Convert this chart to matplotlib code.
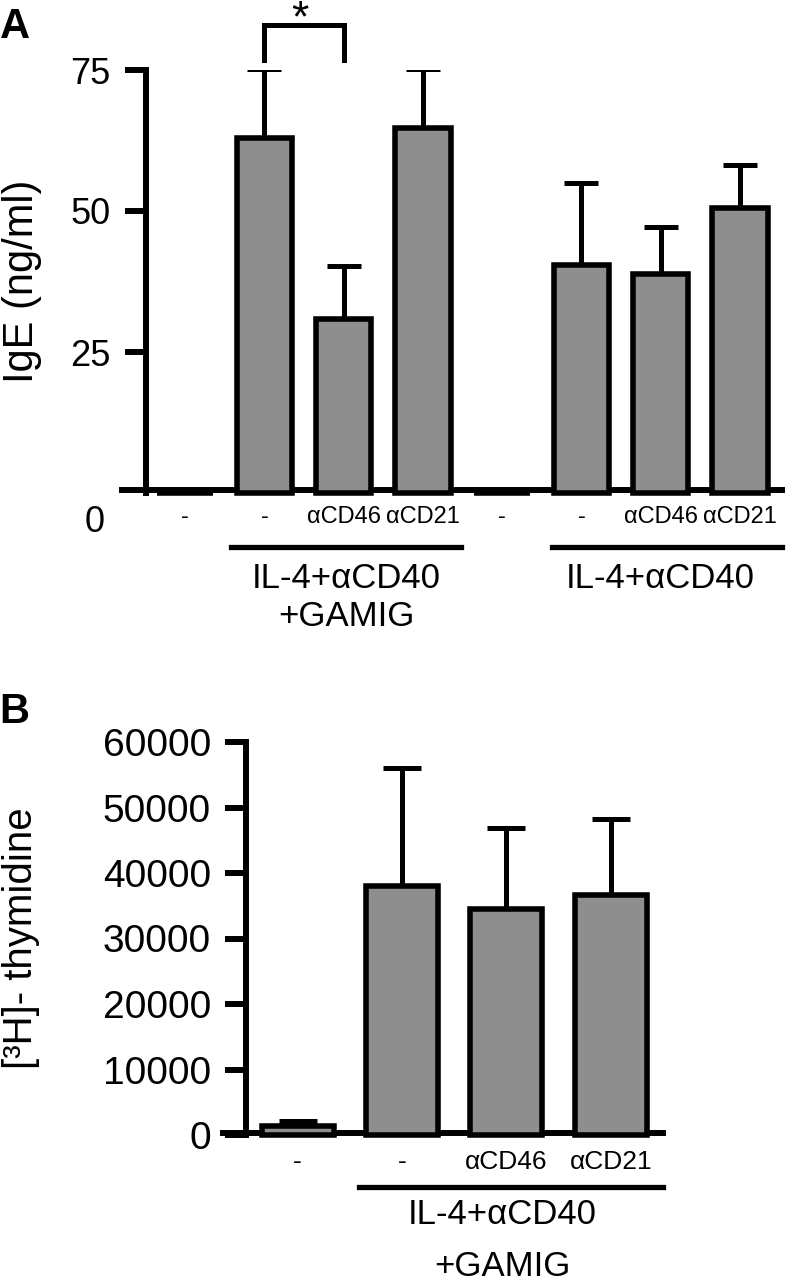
import matplotlib
matplotlib.use("Agg")
import matplotlib.pyplot as plt
import matplotlib.transforms as mtransforms
import numpy as np

plt.rcParams['font.family'] = ['Liberation Sans', 'DejaVu Sans']

# ---- Data ----
a_labels = ["-", "-", "\u03b1CD46", "\u03b1CD21", "-", "-", "\u03b1CD46", "\u03b1CD21"]
a_values = [0, 63.0, 30.9, 64.8, 0, 40.4, 38.8, 50.5]
a_errors = [0, 12.2, 9.3, 10.4, 0, 14.6, 8.4, 7.7]
a_yticks = [25, 50, 75]
a_groups = ["IL-4+\u03b1CD40\n+GAMIG", "IL-4+\u03b1CD40"]

b_labels = ["-", "-", "\u03b1CD46", "\u03b1CD21"]
b_values = [1400, 38000, 34500, 36650]
b_errors = [700, 18100, 12400, 11650]
b_yticks = [0, 10000, 20000, 30000, 40000, 50000, 60000]
b_group = "IL-4+\u03b1CD40\n+GAMIG"

W, H = 786, 1280
fig = plt.figure(figsize=(W / 100, H / 100), dpi=100)

def fx(px):
    return px / W

def fy(py):
    return 1 - py / H

BAR_COLOR = "#8e8e8e"
LW_SPINE = 4.3
LW_BAR = 4.0
LW_ERR = 3.6

def style_axis(ax, ticklen, tickfs, pad, xfs):
    for s in ("top", "right"):
        ax.spines[s].set_visible(False)
    ax.spines["left"].set_linewidth(LW_SPINE)
    ax.spines["bottom"].set_linewidth(LW_SPINE)
    ax.spines["left"].set_position(("data", -0.5))
    ax.spines["bottom"].set_zorder(2.5)
    ax.tick_params(axis="y", length=ticklen, width=LW_SPINE, labelsize=tickfs, pad=pad)
    ax.tick_params(axis="x", length=0, labelsize=xfs, pad=12)

# ---------------- Panel A ----------------
axA_left, axA_right = 122, 782
axA = fig.add_axes([fx(axA_left), fy(493), fx(axA_right) - fx(axA_left), fy(70) - fy(493)])
xa = np.arange(len(a_values))
axA.bar(xa, a_values, width=0.7, color=BAR_COLOR, edgecolor="black", linewidth=LW_BAR,
        zorder=3, clip_on=False)
ea = np.array(a_errors)
m = ea > 0
axA.errorbar(xa[m], np.array(a_values)[m], yerr=[np.zeros(m.sum()), ea[m]], fmt="none",
             ecolor="black", elinewidth=LW_ERR, capsize=12, capthick=LW_ERR, zorder=2)
axA.set_xlim(-0.797, 7.53)
axA.set_ylim(0, 75)
axA.set_yticks(a_yticks)
axA.set_xticks(xa)
axA.set_xticklabels(a_labels)
style_axis(axA, 15, 26, 10, 17)
axA.spines["bottom"].set_position(("data", 0.6))
axA.set_ylabel("IgE (ng/ml)", fontsize=30)
axA.yaxis.set_label_coords((42 - axA_left) / (axA_right - axA_left), 0.5)
fig.text(fx(95), fy(522), "0", fontsize=26, ha="center", va="center")
fig.text(fx(15), fy(38), "A", fontsize=30, fontweight="bold", ha="center", va="baseline")

# significance bracket
axA.plot([1, 1, 2, 2], [76.8, 83.0, 83.0, 76.8], color="black", lw=LW_ERR, clip_on=False,
         solid_joinstyle="miter")
fig.text(fx(300), fy(31), "*", fontsize=32, ha="center", va="baseline")

# group lines / labels
trA = mtransforms.blended_transform_factory(axA.transData, fig.transFigure)
axA.plot([0.58, 3.48], [fy(547), fy(547)], color="black", lw=3.8, transform=trA, clip_on=False)
axA.plot([4.63, 7.53], [fy(547), fy(547)], color="black", lw=3.8, transform=trA, clip_on=False)
axA.text(2.03, fy(562), a_groups[0], fontsize=25, ha="center", va="top", transform=trA,
         linespacing=1.2)
axA.text(6.0, fy(562), a_groups[1], fontsize=25, ha="center", va="top", transform=trA)

# ---------------- Panel B ----------------
axB_left, axB_right = 223, 663
axB = fig.add_axes([fx(axB_left), fy(1135), fx(axB_right) - fx(axB_left), fy(742) - fy(1135)])
xb = np.arange(len(b_values))
axB.bar(xb, b_values, width=0.69, color=BAR_COLOR, edgecolor="black", linewidth=LW_BAR,
        zorder=3, clip_on=False)
axB.errorbar(xb, b_values, yerr=[np.zeros(len(b_errors)), b_errors], fmt="none",
             ecolor="black", elinewidth=LW_ERR, capsize=13.5, capthick=LW_ERR, zorder=2)
axB.set_xlim(-0.716, 3.5)
axB.set_ylim(0, 60000)
axB.set_yticks(b_yticks)
axB.set_yticklabels([str(v) for v in b_yticks])
axB.set_xticks(xb)
axB.set_xticklabels(b_labels)
style_axis(axB, 15, 28, 10, 19)
axB.spines["bottom"].set_position(("data", 300))
axB.set_ylabel("[\u00b3H]- thymidine", fontsize=29)
axB.yaxis.set_label_coords((40 - axB_left) / (axB_right - axB_left), 0.5)
fig.text(fx(14), fy(723), "B", fontsize=30, fontweight="bold", ha="center", va="baseline")

trB = mtransforms.blended_transform_factory(axB.transData, fig.transFigure)
axB.plot([0.59, 3.5], [fy(1187), fy(1187)], color="black", lw=3.8, transform=trB, clip_on=False)
axB.text(1.96, fy(1198), b_group, fontsize=25, ha="center", va="top", transform=trB,
         linespacing=1.75)

fig.savefig("out.png", dpi=100)
